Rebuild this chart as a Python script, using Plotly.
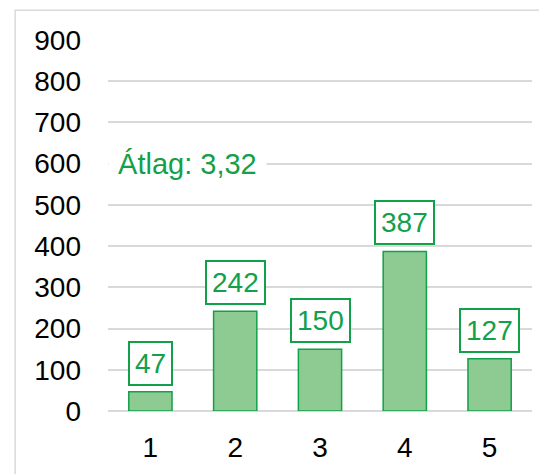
import plotly.graph_objects as go

categories = ["1", "2", "3", "4", "5"]
counts = [47, 242, 150, 387, 127]
avg_label = "Átlag: 3,32"
avg_level = 600

GREEN = "#13a04a"
BAR_FILL = "#8ecb93"
GRID = "#d9d9d9"
FONT = "Liberation Sans, Arial, sans-serif"

fig = go.Figure()
fig.add_trace(go.Bar(
    x=categories, y=counts,
    marker=dict(color=BAR_FILL, line=dict(color=GREEN, width=1.5)),
    hoverinfo="skip",
))

# boxed value labels above each bar (x by category index)
for i, v in enumerate(counts):
    fig.add_annotation(
        x=i, y=v, text=str(v), showarrow=False,
        yanchor="bottom", yshift=6,
        font=dict(color=GREEN, size=28, family=FONT),
        bgcolor="white", bordercolor=GREEN, borderwidth=2, borderpad=5,
    )

# leading nbsp keeps the white background over the gridline start
fig.add_annotation(
    x=0, xref="paper", xanchor="left", y=avg_level, yanchor="middle",
    text="\u00a0" + avg_label + "\u00a0", showarrow=False,
    font=dict(color=GREEN, size=29, family=FONT),
    bgcolor="white", borderpad=1,
)

# chart-area frame (left/top edges visible)
fig.add_shape(type="rect", xref="paper", yref="paper",
              x0=-0.219, x1=1.2, y0=-0.3, y1=1.08,
              line=dict(color=GRID, width=1.5), layer="below")

fig.update_layout(
    width=547, height=474,
    margin=dict(l=100, r=23, t=32, b=71),
    paper_bgcolor="white", plot_bgcolor="white",
    font=dict(family=FONT, color="black", size=28),
    showlegend=False, bargap=0.49,
)
fig.update_xaxes(type="category", showgrid=False, showline=False,
                 ticks="", ticklabelstandoff=17, tickfont=dict(size=28))
fig.update_yaxes(range=[0, 900], dtick=100, gridcolor=GRID, gridwidth=1.5,
                 zeroline=True, zerolinecolor=GRID, zerolinewidth=1.5,
                 showline=False, ticks="", ticklabelstandoff=26,
                 tickfont=dict(size=28))

fig.write_html("out.html")
